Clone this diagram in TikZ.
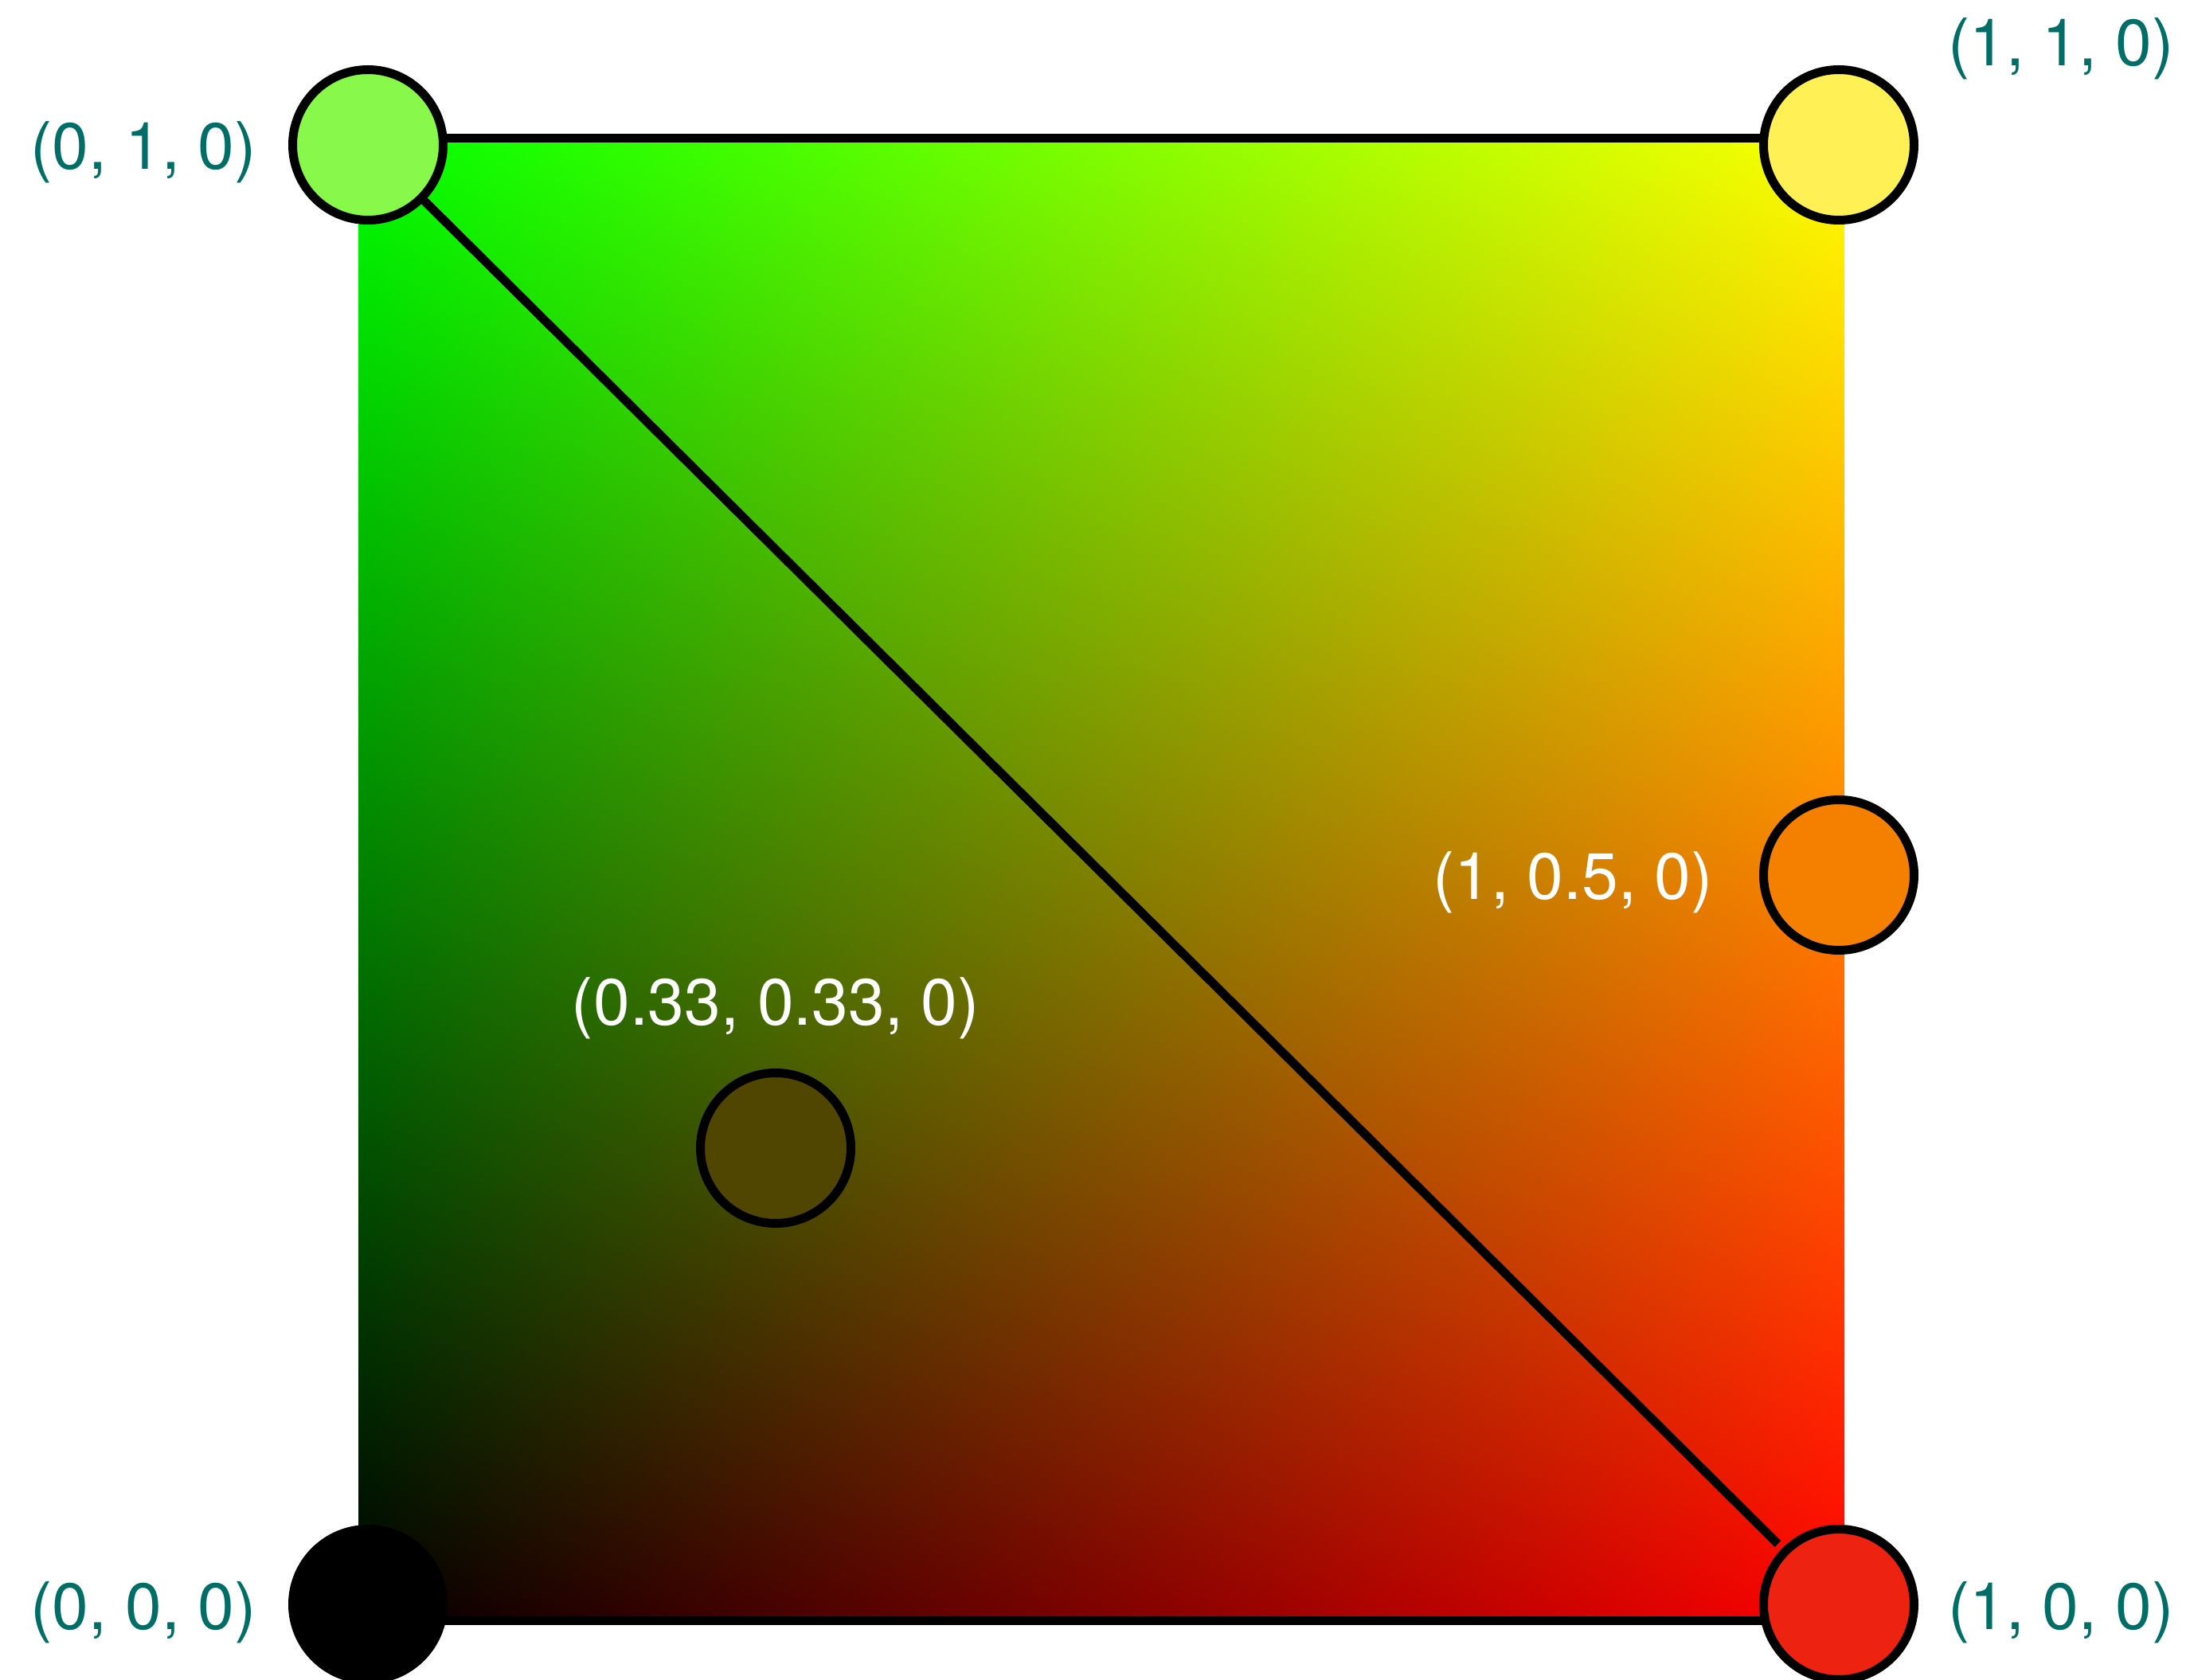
\documentclass[tikz,border=0pt]{standalone}
\usepackage{fontspec}
\setmainfont{TeX Gyre Heros}
\usetikzlibrary{positioning,shadings,backgrounds}

\definecolor{labelteal}{RGB}{0,110,102}
\definecolor{fillgreen}{RGB}{136,248,74}
\definecolor{fillyellow}{RGB}{255,240,86}
\definecolor{fillorange}{RGB}{245,128,0}
\definecolor{fillolive}{RGB}{81,69,2}
\definecolor{fillred}{RGB}{238,34,17}

\tikzset{
  vertex/.style={circle, draw=black, line width=0.11cm, minimum size=1.89cm, inner sep=0pt},
  coordlabel/.style={text=labelteal, inner sep=0pt, outer sep=0pt, font=\fontsize{23.4}{28}\selectfont},
  innerlabel/.style={coordlabel, text=white},
  edge/.style={line width=0.11cm}
}

\begin{document}
\begin{tikzpicture}
\useasboundingbox (0,0) rectangle (27.5,21.09);

% the colour points
\node[vertex, fill=black] (n000) at (4.62,0.94) {};
\node[vertex, fill=fillgreen] (n010) at (4.62,19.27) {};
\node[vertex, fill=fillyellow] (n110) at (23.09,19.27) {};
\node[vertex, fill=fillred] (n100) at (23.09,0.94) {};
\node[vertex, fill=fillorange] (nhalf) at (23.09,10.10) {};
\node[vertex, fill=fillolive] (nthird) at (9.74,6.67) {};

% labels
\node[coordlabel, left=0.40cm of n010, yshift=-0.9mm] (l010) {(0, 1, 0)};
\node[coordlabel, right=0.37cm of n110, yshift=12.1mm] (l110) {(1, 1, 0)};
\node[coordlabel, left=0.40cm of n000, yshift=-1mm] (l000) {(0, 0, 0)};
\node[coordlabel, right=0.37cm of n100, yshift=-1mm] (l100) {(1, 0, 0)};
\node[innerlabel, left=0.58cm of nhalf, yshift=-0.9mm] (lhalf) {(1, 0.5, 0)};
\node[innerlabel, above=0.37cm of nthird] (lthird) {(0.33, 0.33, 0)};

% the square and its edges go under the points
\begin{pgfonlayer}{background}
\coordinate (sqsw) at (4.50,0.74);
\coordinate (sqne) at (23.16,19.35);
\shade[lower left=black, upper left=green, upper right=yellow, lower right=red]
  (sqsw) rectangle (sqne);
\draw[edge] ([yshift=0.8mm]n010.center) -- ([yshift=0.8mm]n110.center);
\draw[edge] ([yshift=-2mm]n000.center) -- ([yshift=-2mm]n100.center);
\end{pgfonlayer}

% diagonal
\draw[edge, shorten >=0.8mm] (n010) -- (n100);
\end{tikzpicture}
\end{document}
